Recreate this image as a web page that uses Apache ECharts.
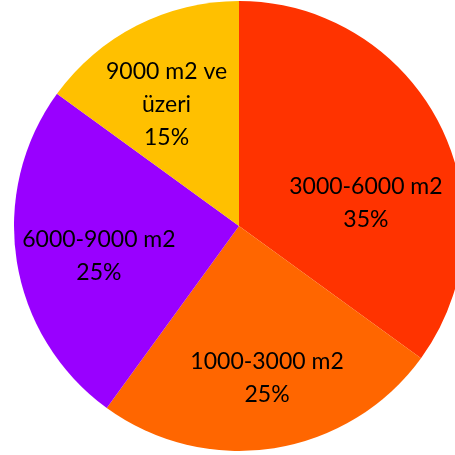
<!DOCTYPE html>
<html>
<head>
<meta charset="utf-8">
<script src="https://cdn.jsdelivr.net/npm/echarts@6/dist/echarts.min.js"></script>
<style>
  html, body { margin: 0; padding: 0; background: #fff; }
  #chart { width: 455px; height: 455px; }
</style>
</head>
<body>
<div id="chart"></div>
<script>
// dilimler, saat 12'den saat yönünde
const categories = ['3000-6000 m2', '1000-3000 m2', '6000-9000 m2', '9000 m2 ve\nüzeri'];
const values = [35, 25, 25, 15];
const colors = ['#FF3300', '#FF6600', '#9900FF', '#FFC000'];
// etiket kaydırma (Excel "best fit" konumuna yaklaşmak için)
const labelShift = [[24, 30], [10, 38], [-26, 12], [-20, -19]];

const chartDom = document.getElementById('chart');
const myChart = echarts.init(chartDom);

const option = {
  backgroundColor: '#fff',
  animation: false,
  series: [
    {
      type: 'pie',
      center: [239, 226],
      radius: 225,
      startAngle: 90,
      clockwise: true,
      data: categories.map((name, i) => ({
        name: name,
        value: values[i],
        itemStyle: { color: colors[i] }
      })),
      itemStyle: {
        borderWidth: 0
      },
      label: {
        show: true,
        position: 'inside',
        color: '#000',
        fontFamily: 'Lato',
        fontSize: 23,
        lineHeight: 33,
        align: 'center',
        formatter: p => p.name + '\n' + Math.round(p.percent) + '%'
      },
      labelLine: { show: false },
      labelLayout: params => ({
        dx: labelShift[params.dataIndex][0],
        dy: labelShift[params.dataIndex][1]
      }),
      emphasis: { disabled: true }
    }
  ]
};

option && myChart.setOption(option);
</script>
</body>
</html>
